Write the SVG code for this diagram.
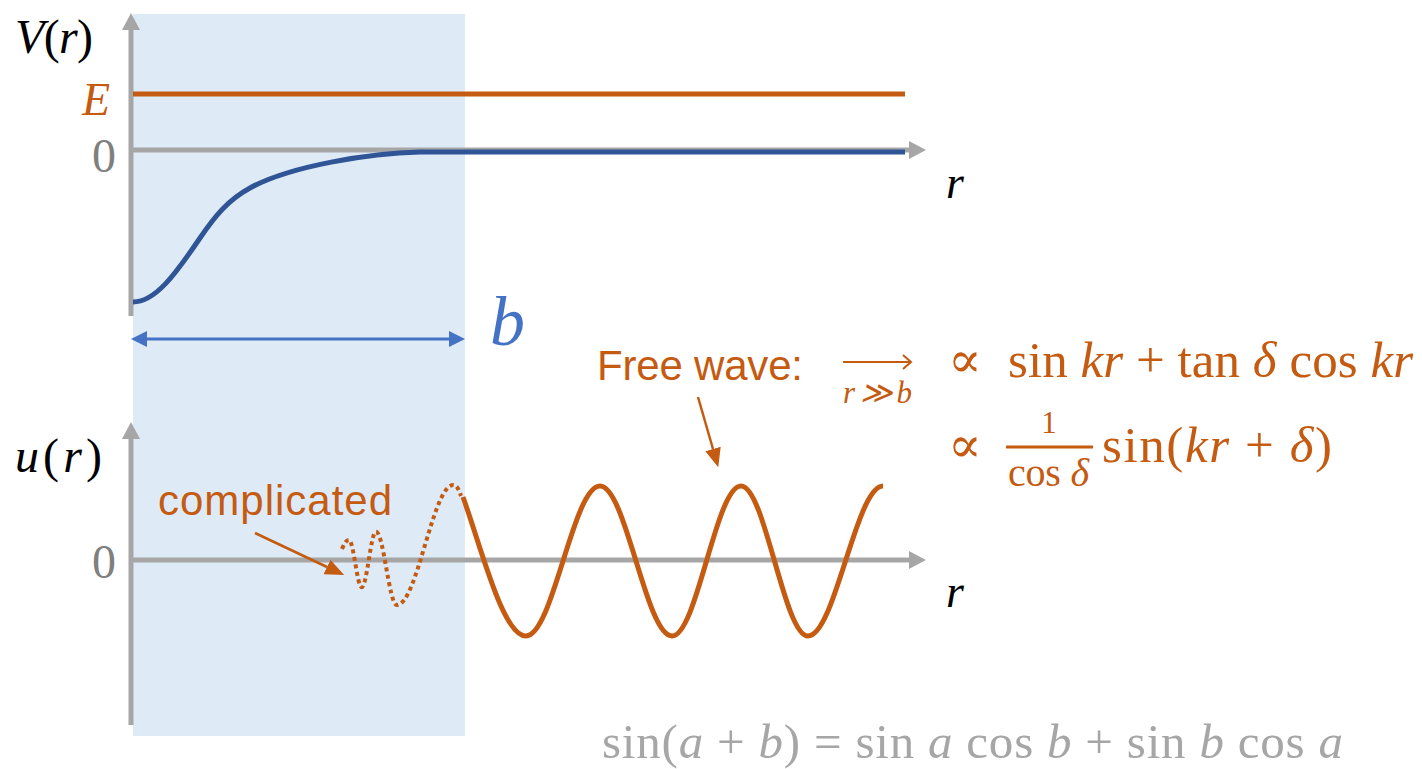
<svg xmlns="http://www.w3.org/2000/svg" width="1422" height="769" viewBox="0 0 1422 769">
<style>
.math{font-family:"Liberation Serif","DejaVu Serif",serif;}
.it{font-style:italic;}
.sans{font-family:"Liberation Sans","DejaVu Sans",sans-serif;}
.or{fill:#C55A11;}
.gr{fill:#7F7F7F;}
.axis{stroke:#A6A6A6;stroke-width:5;fill:none;}
.oline{stroke:#C55A11;fill:none;}
</style>
<defs>
<marker id="ax" markerUnits="userSpaceOnUse" markerWidth="18" markerHeight="18" refX="0" refY="9" orient="auto" viewBox="0 0 18 18"><path d="M0,0 L17,9 L0,18 z" fill="#A6A6A6"/></marker>
<marker id="ba" markerUnits="userSpaceOnUse" markerWidth="16" markerHeight="16" refX="0" refY="8" orient="auto-start-reverse" viewBox="0 0 16 16"><path d="M0,0 L16,8 L0,16 z" fill="#4472C4"/></marker>
<marker id="oa" markerUnits="userSpaceOnUse" markerWidth="20" markerHeight="16" refX="0" refY="8" orient="auto" viewBox="0 0 20 16"><path d="M0,0 L19,8 L0,16 z" fill="#C55A11"/></marker>
</defs>

<rect id="region" x="133" y="14" width="332" height="722" fill="#DEEBF7"/>

<g id="connectors">
  <line class="axis" x1="131" y1="316" x2="131" y2="30" marker-end="url(#ax)"/>
  <line class="axis" x1="131" y1="150" x2="909" y2="150" marker-end="url(#ax)"/>
  <line class="axis" x1="131" y1="725" x2="131" y2="439" marker-end="url(#ax)"/>
  <line class="axis" x1="131" y1="560" x2="909" y2="560" marker-end="url(#ax)"/>
  <line x1="147" y1="339" x2="449" y2="339" stroke="#4472C4" stroke-width="3" marker-start="url(#ba)" marker-end="url(#ba)"/>
  <line class="oline" stroke-width="2.5" x1="255" y1="533" x2="327" y2="567" marker-end="url(#oa)"/>
  <line class="oline" stroke-width="2.5" x1="698" y1="397" x2="713" y2="449" marker-end="url(#oa)"/>
  <path class="oline" stroke-width="2" d="M843,362 L911,362 M903,355 L911,362 L903,369"/>
</g>

<g id="energy">
  <line class="oline" stroke-width="5" x1="133" y1="94" x2="905" y2="94"/>
  <text class="math it or" x="82" y="115" font-size="46">E</text>
</g>

<g id="potential">
  <path d="M133,302 C155,302 175,275 200,238 C215,216 228,200 250,188 C290,166 370,153 420,152 L905,152" fill="none" stroke="#2F5597" stroke-width="5"/>
</g>

<g id="wave-inner">
  <path class="oline" stroke-width="4" stroke-dasharray="4 3.5" d="M342,549 C344,544 346,540 349,540 C353.5,540 357.2,587.3 361.7,587.3 C366.9,587.3 370.8,531.7 376,531.7 C383.5,531.7 389.2,605 396.7,605 C417.3,605 432.7,485 453.3,485 C457,485 459,490 461,496"/>
</g>

<g id="wave-free">
  <path class="oline" stroke-width="5" d="M463,497 C482,550 503,636 526,636 C553,636 573,486 600,486 C626,486 646,636 672,636 C697,636 716,486 741,486 C765,486 784,636 808,636 C835,636 856,486 883,486"/>
</g>

<g id="labels-top">
  <text class="math" x="15" y="53" font-size="48" textLength="78" fill="#000"><tspan class="it">V</tspan>(<tspan class="it">r</tspan>)</text>
  <text class="math gr" x="92" y="172" font-size="48">0</text>
  <text class="math it" x="946" y="198" font-size="46">r</text>
  <text class="math it" x="490" y="345" font-size="70" fill="#4472C4">b</text>
</g>

<g id="labels-bottom">
  <text class="math" x="15" y="472" font-size="48" textLength="87"><tspan class="it">u</tspan>(<tspan class="it">r</tspan>)</text>
  <text class="math gr" x="92" y="578" font-size="48">0</text>
  <text class="math it" x="946" y="607" font-size="46">r</text>
  <text class="sans or" x="158" y="515" font-size="42" textLength="234">complicated</text>
</g>

<g id="free-wave-label">
  <text class="sans or" x="597" y="380" font-size="42" textLength="206">Free wave:</text>
  <text class="math it or" x="843" y="403" font-size="31" textLength="69">r≫b</text>
</g>

<g id="formula-1">
  <text class="math or" x="948" y="377" font-size="50">∝</text>
  <text class="math or" x="1008" y="377" font-size="51" textLength="405">sin <tspan class="it">kr</tspan> + tan <tspan class="it">δ</tspan> cos <tspan class="it">kr</tspan></text>
</g>

<g id="formula-2">
  <text class="math or" x="948" y="462" font-size="50">∝</text>
  <text class="math or" x="1049" y="433" font-size="31" text-anchor="middle">1</text>
  <line x1="1006" y1="447" x2="1093" y2="447" stroke="#C55A11" stroke-width="3"/>
  <text class="math or" x="1008" y="486" font-size="40" textLength="81">cos <tspan class="it">δ</tspan></text>
  <text class="math or" x="1102" y="462" font-size="51" textLength="230">sin(<tspan class="it">kr</tspan> + <tspan class="it">δ</tspan>)</text>
</g>

<g id="identity">
  <text class="math" x="602" y="758" font-size="49" fill="#A6A6A6" textLength="741">sin(<tspan class="it">a</tspan> + <tspan class="it">b</tspan>) = sin <tspan class="it">a</tspan> cos <tspan class="it">b</tspan> + sin <tspan class="it">b</tspan> cos <tspan class="it">a</tspan></text>
</g>
</svg>
